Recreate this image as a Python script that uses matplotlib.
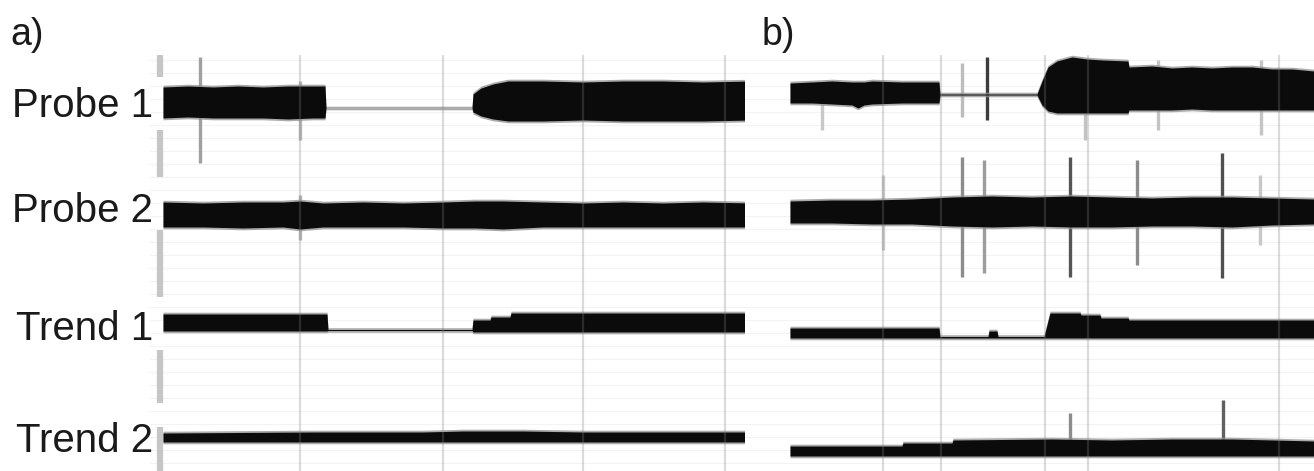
import numpy as np
import matplotlib.pyplot as plt

plt.rcParams['font.family'] = ['Liberation Sans', 'DejaVu Sans']

W, H = 1314, 471

# ---------------- data ----------------
# envelopes: time (s), amplitude above (hi) and below (lo) the channel baseline
# panel a
probe1_a_t = [0, 25, 50, 75, 100, 125, 150, 162, 163, 309, 310, 318, 330, 345, 380, 420, 460, 500, 540, 589]
probe1_a_hi = [16, 17, 16, 17, 16, 17, 17, 17, -5, -5, 9, 15, 19, 22, 22, 21, 22, 22, 21, 22]
probe1_a_lo = [15, 14, 15, 15, 15, 16, 15, 15, 5, 5, 9, 13, 16, 18, 18, 17, 18, 18, 18, 17]

probe2_a_t = [0, 40, 80, 120, 137, 160, 200, 240, 280, 312, 340, 380, 420, 460, 500, 540, 589]
probe2_a_hi = [13, 12, 13, 13, 14, 12, 13, 12, 13, 14, 14, 13, 12, 13, 12, 13, 12]
probe2_a_lo = [12, 12, 13, 12, 14, 12, 12, 12, 13, 13, 14, 12, 12, 12, 12, 12, 12]

trend1_a_t = [0, 164, 165, 309, 310, 327, 328, 347, 348, 589]
trend1_a_hi = [16, 16, 0.5, 0.5, 10, 10, 13, 13, 17, 17]
trend1_a_lo = [1, 1, 0.5, 0.5, 2, 2, 2, 2, 2, 2]

trend2_a_t = [0, 150, 260, 300, 360, 420, 589]
trend2_a_hi = [4, 5, 5, 6, 6, 5, 5]
trend2_a_lo = [5, 5, 5, 5, 5, 5, 5]

# panel b
probe1_b_t = [38, 60, 80, 100, 106, 112, 120, 150, 187, 188, 285, 290, 296, 305, 320, 335, 350,
              376, 377, 400, 420, 440, 460, 480, 500, 520, 540, 562]
probe1_b_hi = [10, 11, 12, 11, 11, 11, 12, 11, 11, -1, -1, 12, 26, 32, 36, 34, 33,
               32, 26, 27, 25, 26, 25, 26, 26, 24, 24, 22]
probe1_b_lo = [10, 10, 11, 12, 15, 12, 11, 10, 10, 2, 2, 12, 18, 20, 20, 20, 20,
               20, 17, 17, 17, 16, 17, 17, 17, 17, 17, 17]

probe2_b_t = [38, 80, 120, 160, 200, 240, 280, 320, 360, 400, 440, 480, 520, 562]
probe2_b_hi = [11, 12, 12, 13, 15, 16, 15, 16, 15, 14, 15, 15, 14, 13]
probe2_b_lo = [11, 11, 12, 12, 14, 15, 14, 15, 15, 14, 14, 15, 13, 12]

trend1_b_t = [38, 187, 188, 236, 237, 245, 246, 292, 298, 328, 329, 348, 349, 376, 377, 562]
trend1_b_hi = [9, 9, 0.5, 0.5, 6, 6, 0.5, 0.5, 24, 24, 22, 22, 19, 19, 17, 17]
trend1_b_lo = [1, 1, 1, 1, 1, 1, 1, 1, 1, 1, 1, 1, 1, 1, 1, 1]

trend2_b_t = [38, 150, 151, 200, 201, 300, 360, 420, 480, 562]
trend2_b_hi = [9, 9, 12, 12, 15, 16, 15, 16, 16, 14]
trend2_b_lo = [1, 1, 1, 1, 1, 1, 1, 1, 1, 1]

# isolated spikes: channel index, time, extent up / down, shade
spike_a_ch = [0, 0, 1]
spike_a_t = [37, 137, 137]
spike_a_up = [46, 22, 20]
spike_a_dn = [60, 37, 25]
spike_a_shade = ['#a0a0a0', '#b8b8b8', '#b8b8b8']

spike_b_ch = [0, 0, 0, 0, 0, 0, 1, 1, 1, 1, 1, 1, 1, 3, 3]
spike_b_t = [235, 70, 210, 333, 406, 509, 210, 232, 318, 385, 470, 508, 131, 318, 471]
spike_b_up = [36, 5, 30, 33, 33, 33, 55, 52, 55, 52, 59, 37, 37, 42, 55]
spike_b_dn = [27, 37, 24, 47, 37, 42, 65, 61, 65, 53, 66, 33, 38, 0, 0]
spike_b_shade = ['#3c3c3c', '#c8c8c8', '#bcbcbc', '#c4c4c4', '#c4c4c4', '#c4c4c4',
                 '#8c8c8c', '#9c9c9c', '#555555', '#8c8c8c', '#505050', '#c8c8c8', '#cccccc',
                 '#8c8c8c', '#606060']

labels = ['Probe 1', 'Probe 2', 'Trend 1', 'Trend 2']

# ---------------- layout ----------------
base_a = [103, 215, 330, 437]
base_b = [93, 212, 337, 455]
label_baseline = [117, 222, 340, 452]
grid_a = [137, 280, 420, 562]
grid_b = [131, 189, 293, 336, 527]
dash_segments = [(55, 77), (130, 177), (230, 297), (350, 403), (427, 471)]


def draw_trace(ax, t, hi, lo, base):
    t = np.asarray(t, float)
    up = base - np.asarray(hi, float)
    dn = base + np.asarray(lo, float)
    ax.fill_between(t, up - 1.8, dn + 1.8, color='#8f8f8f', lw=0, alpha=0.75, zorder=2)
    ax.fill_between(t, up, dn, color='#0b0b0b', lw=0, zorder=2.5)


def draw_spikes(ax, bases, ch, t, up, dn, shade):
    for c, x, u, d, s in zip(ch, t, up, dn, shade):
        ax.vlines(x, bases[c] - u, bases[c] + d, color=s, lw=2.4, zorder=1.5)


def setup(ax, xlim, grid):
    ax.set_xlim(*xlim)
    ax.set_ylim(H, 55)
    ax.set_xticks([])
    ax.set_yticks(np.arange(60, H, 13))
    ax.grid(axis='y', color='#f3f3f3', lw=0.8)
    ax.set_axisbelow(True)
    ax.tick_params(length=0, labelbottom=False, labelleft=False)
    for s in ax.spines.values():
        s.set_visible(False)
    # vertical grid drawn over the traces, as in the recording software
    ax.vlines(grid, 55, H, color='#808080', alpha=0.28, lw=1.6, zorder=3)


fig = plt.figure(figsize=(W / 100, H / 100), dpi=100)

ax_a = fig.add_axes([150 / W, 0, 610 / W, (H - 55) / H])
setup(ax_a, (-13, 597), grid_a)
draw_trace(ax_a, probe1_a_t, probe1_a_hi, probe1_a_lo, base_a[0])
draw_trace(ax_a, probe2_a_t, probe2_a_hi, probe2_a_lo, base_a[1])
draw_trace(ax_a, trend1_a_t, trend1_a_hi, trend1_a_lo, base_a[2])
draw_trace(ax_a, trend2_a_t, trend2_a_hi, trend2_a_lo, base_a[3])
draw_spikes(ax_a, base_a, spike_a_ch, spike_a_t, spike_a_up, spike_a_dn, spike_a_shade)
for y0, y1 in dash_segments:
    ax_a.vlines(-3, y0, y1, color='#c6c6c6', lw=4.5, zorder=1)
ax_a.axvline(590, color='#b8b8b8', lw=3.5, zorder=3)

ax_b = fig.add_axes([745 / W, 0, 569 / W, (H - 55) / H])
setup(ax_b, (-7, 562), grid_b)
draw_trace(ax_b, probe1_b_t, probe1_b_hi, probe1_b_lo, base_b[0])
draw_trace(ax_b, probe2_b_t, probe2_b_hi, probe2_b_lo, base_b[1])
draw_trace(ax_b, trend1_b_t, trend1_b_hi, trend1_b_lo, base_b[2])
draw_trace(ax_b, trend2_b_t, trend2_b_hi, trend2_b_lo, base_b[3])
draw_spikes(ax_b, base_b, spike_b_ch, spike_b_t, spike_b_up, spike_b_dn, spike_b_shade)

for lab, yb in zip(labels, label_baseline):
    fig.text(153 / W, 1 - yb / H, lab, ha='right', va='baseline', fontsize=29, color='#1a1a1a')
fig.text(10 / W, 1 - 45 / H, 'a)', ha='left', va='baseline', fontsize=27, color='#1a1a1a')
fig.text(762 / W, 1 - 45 / H, 'b)', ha='left', va='baseline', fontsize=27, color='#1a1a1a')

fig.savefig('out.png', dpi=100, facecolor='white')
